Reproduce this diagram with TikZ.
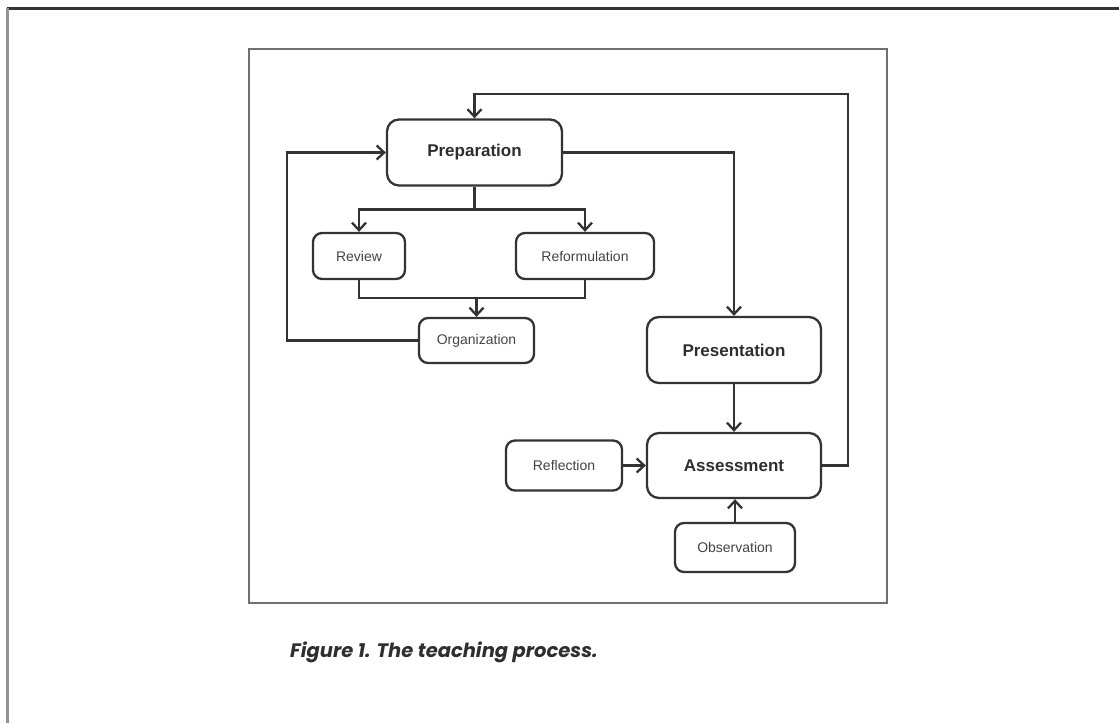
\documentclass[tikz,border=0pt]{standalone}
\usepackage{fontspec}
\setmainfont{Liberation Sans}
\newfontfamily\capfont{Poppins}
\usetikzlibrary{arrows.meta}
\definecolor{ln}{HTML}{333333}
\definecolor{tx}{HTML}{2E2E2E}
\definecolor{frm}{HTML}{707070}
\tikzset{
  bigbox/.style={draw=ln, line width=2.3pt, rounded corners=12pt, inner sep=0pt,
    font=\fontsize{17}{20}\selectfont\bfseries, text=tx},
  smallbox/.style={draw=ln, line width=2.3pt, rounded corners=9pt, inner sep=0pt,
    font=\fontsize{14}{17}\selectfont, text=tx!90},
  conn/.style={draw=ln, line width=2.3pt},
  arr/.style={conn, -{Straight Barb[length=7.5pt,width=14pt]}}
}
\begin{document}
\begin{tikzpicture}[x=1pt,y=-1pt]
\useasboundingbox (0,0) rectangle (1119,723);
% outer frame
\draw[color=ln, line width=2.2pt] (6.5,8.5) -- (1119,8.5);
\draw[color=gray!85, line width=2.2pt] (7.5,8) -- (7.5,723);
% inner frame
\draw[color=frm, line width=2pt] (248.5,49) rectangle (886.5,603);

% nodes
\node[bigbox, minimum width=175pt, minimum height=66pt] (prep) at (474.5,152.5) {Preparation};
\node[smallbox, minimum width=92pt, minimum height=46pt] (rev) at (359,256) {Review};
\node[smallbox, minimum width=138pt, minimum height=46pt] (ref) at (585,256) {Reformulation};
\node[smallbox, minimum width=115pt, minimum height=45pt] (org) at (476.5,340.5) {Organization};
\node[bigbox, minimum width=174pt, minimum height=66pt] (pres) at (734,350) {Presentation};
\node[bigbox, minimum width=174pt, minimum height=65pt] (ass) at (734,465.5) {Assessment};
\node[smallbox, minimum width=116pt, minimum height=50pt] (refl) at (564,465.5) {Reflection};
\node[smallbox, minimum width=120pt, minimum height=49pt] (obs) at (735,547.5) {Observation};

% connectors
\coordinate (split) at (474.5,209.5);
\draw[conn] (prep.south) -- (split);
\draw[arr] (split) -| (rev.north);
\draw[arr] (split) -| (ref.north);
\coordinate (join) at (476.5,298);
\draw[conn] (rev.south) |- (join) -| (ref.south);
\draw[arr] (join) -- (org.north);
\coordinate (lft) at (287,340.5);
\draw[arr] (org.west) -- (lft) |- (prep.west);
\draw[arr] (prep.east) -| (pres.north);
\draw[arr] (pres) -- (ass);
\draw[arr] (refl) -- (ass);
\draw[arr] (obs.north) -- (obs.north |- ass.south);
\coordinate (fb) at (848,94);
\draw[arr] (ass.east) -| (fb) -| (prep.north);

% caption
\node[anchor=base west, inner sep=0pt, text=tx, font=\capfont\fontsize{19.5}{22}\selectfont\bfseries\itshape] (cap) at (290,657) {Figure 1. The teaching process.};
\end{tikzpicture}
\end{document}
